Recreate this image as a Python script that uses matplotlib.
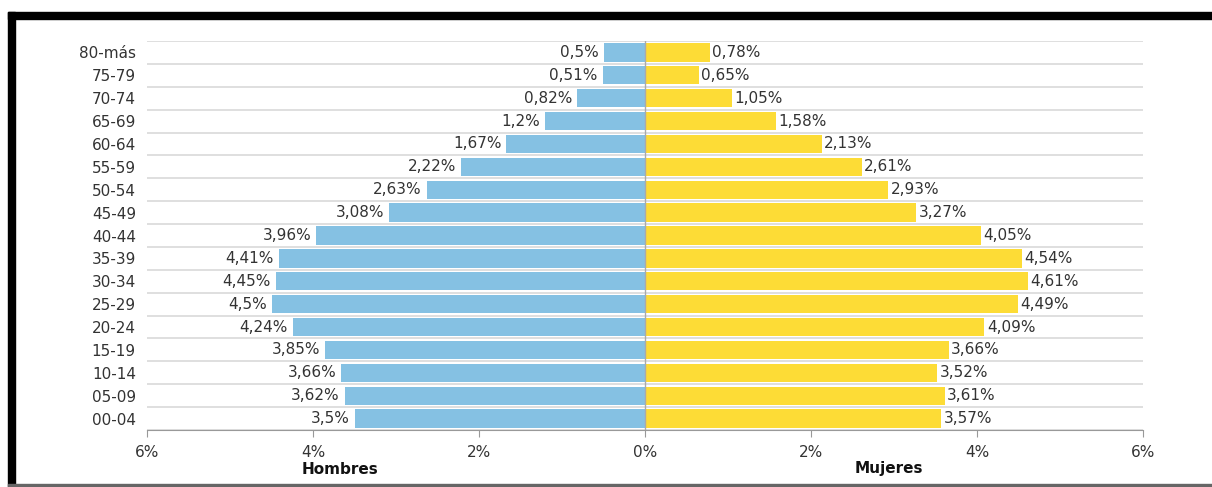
import matplotlib
matplotlib.use('Agg')
import matplotlib.pyplot as plt
from matplotlib.patches import Rectangle
import numpy as np

plt.rcParams['font.family'] = ['DejaVu Sans']

grupos = ['80-más', '75-79', '70-74', '65-69', '60-64', '55-59', '50-54', '45-49',
          '40-44', '35-39', '30-34', '25-29', '20-24', '15-19', '10-14', '05-09', '00-04']
hombres = [0.5, 0.51, 0.82, 1.2, 1.67, 2.22, 2.63, 3.08, 3.96, 4.41, 4.45, 4.5,
           4.24, 3.85, 3.66, 3.62, 3.5]
mujeres = [0.78, 0.65, 1.05, 1.58, 2.13, 2.61, 2.93, 3.27, 4.05, 4.54, 4.61, 4.49,
           4.09, 3.66, 3.52, 3.61, 3.57]
ticks = [-6, -4, -2, 0, 2, 4, 6]
tick_labels = ['6%', '4%', '2%', '0%', '2%', '4%', '6%']

azul = '#85c1e3'
amarillo = '#fddc36'
texto = '#333333'
fs = 11

def fmt(v):
    return '{0:g}%'.format(v).replace('.', ',')

fig = plt.figure(figsize=(12.12, 4.87), dpi=100)
ax = fig.add_axes([147 / 1212, 1 - 430 / 487, 996 / 1212, 389 / 487])

y = np.arange(len(grupos))[::-1]
ax.barh(y, [-v for v in hombres], height=0.8, color=azul, zorder=2)
ax.barh(y, mujeres, height=0.8, color=amarillo, zorder=2)

for yi, v in zip(y, hombres):
    ax.text(-v - 0.06, yi, fmt(v), ha='right', va='center', fontsize=fs, color=texto)
for yi, v in zip(y, mujeres):
    ax.text(v + 0.03, yi, fmt(v), ha='left', va='center', fontsize=fs, color=texto)

# lineas de separacion
for g in np.arange(len(grupos)) + 0.5:
    ax.axhline(g - 1, color='#d9d9d9', lw=1.2, zorder=1)
ax.axhline(len(grupos) - 0.5, color='#d9d9d9', lw=1.2, zorder=1)
ax.axvline(0, color='#aaaaaa', lw=1, zorder=3)

ax.set_xlim(-6, 6)
ax.set_ylim(-0.5, len(grupos) - 0.5)
ax.set_yticks(y)
ax.set_yticklabels(grupos, fontsize=fs, color=texto)
ax.set_xticks(ticks)
ax.set_xticklabels(tick_labels, fontsize=fs, color=texto)
ax.tick_params(axis='y', length=0, pad=8)
ax.tick_params(axis='x', length=5, color='#999999', pad=6)
for s in ['top', 'right', 'left']:
    ax.spines[s].set_visible(False)
ax.spines['bottom'].set_color('#999999')

fig.text(340 / 1212, 1 - 469 / 487, 'Hombres', ha='center', va='center',
         fontsize=fs, fontweight='bold', color='#111111')
fig.text(889 / 1212, 1 - 469 / 487, 'Mujeres', ha='center', va='center',
         fontsize=fs, fontweight='bold', color='#111111')

# marco
fig.patches.append(Rectangle((8 / 1212, 1 - 19 / 487), 1, 7 / 487,
                             transform=fig.transFigure, color='black', zorder=5))
fig.patches.append(Rectangle((8 / 1212, 0), 7 / 1212, 1 - 12 / 487,
                             transform=fig.transFigure, color='black', zorder=5))
fig.patches.append(Rectangle((8 / 1212, 1 / 487), 1, 2 / 487,
                             transform=fig.transFigure, color='#666666', zorder=5))

fig.savefig('out.png', dpi=100)
